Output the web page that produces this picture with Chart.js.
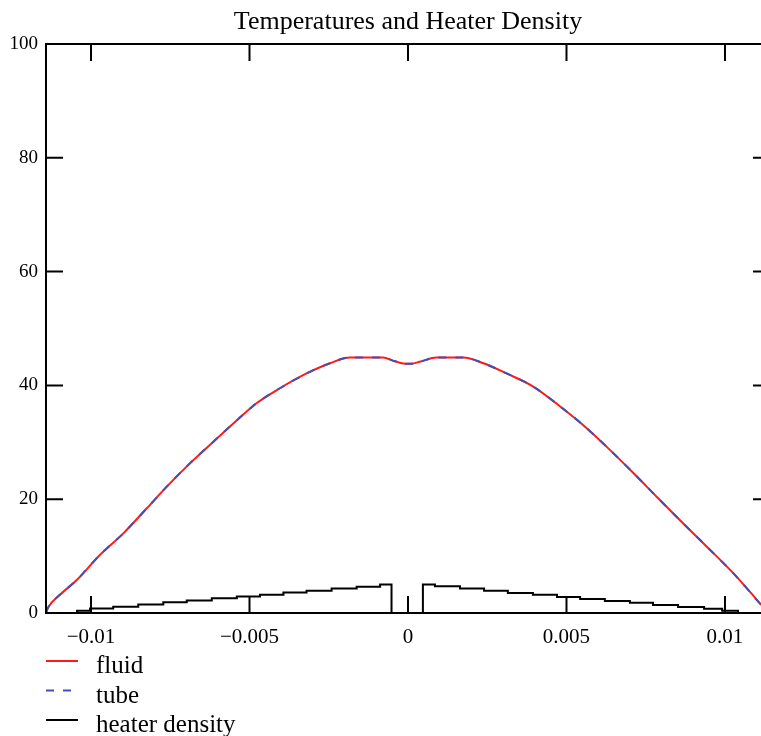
<!DOCTYPE html>
<html>
<head>
<meta charset="utf-8">
<script src="https://cdn.jsdelivr.net/npm/chart.js@4.4.0/dist/chart.umd.min.js"></script>
<style>
  html, body { margin: 0; padding: 0; background: #fff; overflow: hidden; }
  #chart { display: block; }
</style>
</head>
<body>
<canvas id="chart" width="816" height="736"></canvas>
<script>
// position along the heater (x) and temperatures
var tempX = [-0.01142, -0.01136, -0.01098, -0.01045, -0.00972, -0.00898, -0.00824, -0.00761,
	-0.00688, -0.00614, -0.00551, -0.00477, -0.00404, -0.0032, -0.00246, -0.00183, -0.00078,
	-0.0005, -0.0002, 0.0001, 0.0004, 0.0009, 0.00174, 0.00238, 0.00311, 0.00395, 0.0048,
	0.00553, 0.00627, 0.00711, 0.00785, 0.00858, 0.00942, 0.01026, 0.01079, 0.0111, 0.01142];
var fluidTemp = [0, 0.9, 3.2, 5.8, 10.2, 14.0, 18.4, 22.2,
	26.3, 30.1, 33.3, 36.9, 39.5, 42.1, 43.9, 44.9, 44.9,
	44.4, 43.9, 43.8, 44.2, 44.9, 44.9, 43.9, 42.1, 39.8, 36.3,
	33.0, 29.2, 24.6, 20.4, 16.3, 11.7, 7.0, 3.7, 1.7, 0];
var tubeTemp = [0, 0.9, 3.2, 5.8, 10.2, 14.0, 18.4, 22.2,
	26.3, 30.1, 33.3, 36.9, 39.5, 42.1, 43.9, 44.9, 44.9,
	44.4, 43.9, 43.8, 44.2, 44.9, 44.9, 43.9, 42.1, 39.8, 36.3,
	33.0, 29.2, 24.6, 20.4, 16.3, 11.7, 7.0, 3.7, 1.7, 0];

// heater density steps: each value holds from its x to the next x
var heaterX = [-0.01142, -0.01044, -0.01003, -0.0093, -0.00851, -0.00772, -0.00698, -0.00619,
	-0.0054, -0.00467, -0.00393, -0.0032, -0.00241, -0.00162, -0.00088, -0.00052,
	0.00047, 0.00085, 0.00164, 0.0024, 0.00315, 0.00394, 0.0047, 0.00543, 0.00621,
	0.007, 0.00773, 0.00852, 0.00934, 0.00991, 0.01041, 0.01142];
var heaterDensity = [0, 0.4, 0.8, 1.1, 1.5, 1.9, 2.2, 2.6,
	2.9, 3.2, 3.6, 3.9, 4.3, 4.6, 5.0, 0,
	5.0, 4.7, 4.3, 3.9, 3.5, 3.2, 2.8, 2.45, 2.1,
	1.8, 1.4, 1.05, 0.75, 0.4, 0, 0];

var xTicks = [-0.01, -0.005, 0, 0.005, 0.01];
var xTickLabels = ['\u22120.01', '\u22120.005', '0', '0.005', '0.01'];
var yTicks = [0, 20, 40, 60, 80, 100];

var SERIF = '"Liberation Serif", "Times New Roman", serif';

function toPoints(xs, ys) {
	var pts = [];
	for (var i = 0; i < xs.length; i++) pts.push({x: xs[i], y: ys[i]});
	return pts;
}

// frame, inward ticks, title and legend
var framePlugin = {
	id: 'frame',
	afterDraw: function(chart) {
		var ctx = chart.ctx;
		var a = chart.chartArea;
		var xs = chart.scales.x, ys = chart.scales.y;
		ctx.save();
		ctx.strokeStyle = '#000';
		ctx.lineWidth = 2;
		ctx.strokeRect(a.left, a.top, a.right - a.left, a.bottom - a.top);
		ctx.beginPath();
		xTicks.forEach(function(v) {
			var px = xs.getPixelForValue(v);
			ctx.moveTo(px, a.bottom); ctx.lineTo(px, a.bottom - 17);
			ctx.moveTo(px, a.top); ctx.lineTo(px, a.top + 17);
		});
		yTicks.forEach(function(v) {
			if (v === 0 || v === 100) return;
			var py = ys.getPixelForValue(v);
			ctx.moveTo(a.left, py); ctx.lineTo(a.left + 17, py);
			ctx.moveTo(a.right, py); ctx.lineTo(a.right - 17, py);
		});
		ctx.stroke();

		ctx.fillStyle = '#000';
		ctx.font = '26px ' + SERIF;
		ctx.textAlign = 'center';
		ctx.textBaseline = 'alphabetic';
		ctx.fillText('Temperatures and Heater Density', (a.left + a.right) / 2, 29);

		// legend
		var rows = [0, 1, 2];
		ctx.textAlign = 'left';
		ctx.font = '25px ' + SERIF;
		rows.forEach(function(i) {
			var ds = chart.data.datasets[i];
			var ly = 661 + i * 29.5;
			ctx.beginPath();
			ctx.strokeStyle = ds.borderColor;
			ctx.lineWidth = 2;
			ctx.setLineDash(ds.borderDash || []);
			ctx.moveTo(46, ly); ctx.lineTo(78, ly);
			ctx.stroke();
			ctx.setLineDash([]);
			ctx.fillText(ds.label, 96, ly + 12);
		});
		ctx.restore();
	}
};

new Chart(document.getElementById('chart'), {
	type: 'line',
	data: {
		datasets: [
			{
				label: 'fluid',
				data: toPoints(tempX, fluidTemp),
				borderColor: '#ff1a1a',
				borderWidth: 2,
				pointRadius: 0,
				cubicInterpolationMode: 'monotone',
				order: 3
			},
			{
				label: 'tube',
				data: toPoints(tempX, tubeTemp),
				borderColor: '#3d52b8',
				borderWidth: 2,
				borderDash: [8, 9],
				pointRadius: 0,
				cubicInterpolationMode: 'monotone',
				order: 1
			},
			{
				label: 'heater density',
				data: toPoints(heaterX, heaterDensity),
				borderColor: '#000',
				borderWidth: 2,
				pointRadius: 0,
				stepped: true,
				order: 2
			}
		]
	},
	options: {
		responsive: false,
		animation: false,
		events: [],
		layout: { padding: { top: 44, right: 46, bottom: 0, left: 0 } },
		plugins: {
			legend: { display: false },
			title: { display: false },
			tooltip: { enabled: false }
		},
		scales: {
			x: {
				type: 'linear',
				min: -0.01142,
				max: 0.01142,
				grid: { display: false, drawTicks: false },
				border: { display: false },
				afterBuildTicks: function(scale) {
					scale.ticks = xTicks.map(function(v) { return {value: v}; });
				},
				afterFit: function(scale) { scale.height = 123; },
				ticks: {
					padding: 12,
					color: '#000',
					maxRotation: 0,
					autoSkip: false,
					font: { family: SERIF, size: 21 },
					callback: function(v) {
						var i = xTicks.indexOf(v);
						return i >= 0 ? xTickLabels[i] : '';
					}
				}
			},
			y: {
				min: 0,
				max: 100,
				grid: { display: false, drawTicks: false },
				border: { display: false },
				afterBuildTicks: function(scale) {
					scale.ticks = yTicks.map(function(v) { return {value: v}; });
				},
				afterFit: function(scale) { scale.width = 46; },
				ticks: {
					padding: 8,
					color: '#000',
					font: { family: SERIF, size: 19 }
				}
			}
		}
	},
	plugins: [framePlugin]
});
</script>
</body>
</html>
